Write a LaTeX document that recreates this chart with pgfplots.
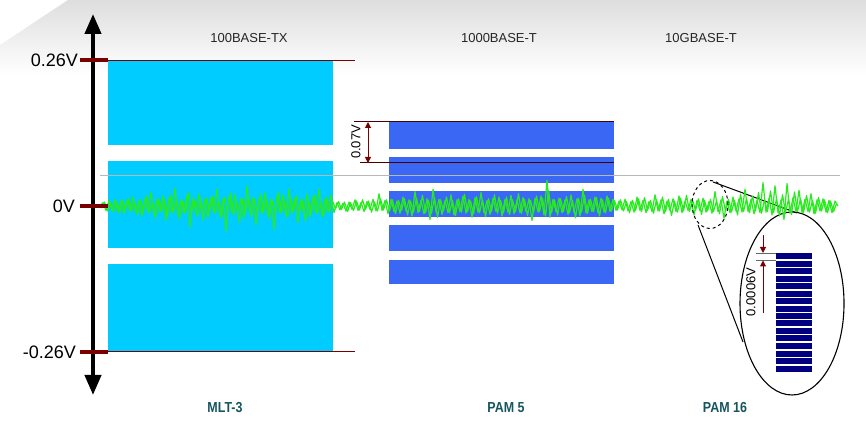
\documentclass[border=0pt]{standalone}
\usepackage{pgfplots}
\pgfplotsset{compat=1.18}
\usepackage{fontspec}
\setmainfont{Liberation Sans}
\usetikzlibrary{arrows.meta}
\definecolor{mlt}{RGB}{0,204,255}
\definecolor{pamfive}{RGB}{58,104,245}
\definecolor{pamsix}{RGB}{0,0,128}
\definecolor{noise}{RGB}{40,235,30}
\definecolor{tickred}{RGB}{120,0,0}
\definecolor{darkline}{RGB}{70,0,0}
\definecolor{labteal}{RGB}{22,85,95}
\begin{document}
\begin{tikzpicture}
\path (0pt,0pt) rectangle (866pt,427pt);
\shade[top color=black!13,bottom color=white] (0pt,382pt)--(68pt,427pt)--(866pt,427pt)--(866pt,352pt)--(0pt,352pt)--cycle;
\begin{axis}[at={(0pt,0pt)},anchor=south west,width=866pt,height=427pt,scale only axis,
  xmin=0,xmax=866,ymin=-0.394643,ymax=0.367857,hide axis,clip=false]
% MLT-3 levels
\addplot[fill=mlt,draw=none] coordinates {(108,0.2607)(333,0.2607)(333,0.1089)(108,0.1089)};
\addplot[fill=mlt,draw=none] coordinates {(108,0.0804)(333,0.0804)(333,-0.0750)(108,-0.0750)};
\addplot[fill=mlt,draw=none] coordinates {(108,-0.1036)(333,-0.1036)(333,-0.2607)(108,-0.2607)};
% PAM 5 levels
\addplot[fill=pamfive,draw=none] coordinates {(389,0.1500)(614,0.1500)(614,0.1020)(389,0.1020)};
\addplot[fill=pamfive,draw=none] coordinates {(389,0.0875)(614,0.0875)(614,0.0410)(389,0.0410)};
\addplot[fill=pamfive,draw=none] coordinates {(389,0.0268)(614,0.0268)(614,-0.0196)(389,-0.0196)};
\addplot[fill=pamfive,draw=none] coordinates {(389,-0.0339)(614,-0.0339)(614,-0.0804)(389,-0.0804)};
\addplot[fill=pamfive,draw=none] coordinates {(389,-0.0964)(614,-0.0964)(614,-0.1393)(389,-0.1393)};
% reference lines
\addplot[tickred,line width=1pt] coordinates {(108,0.2607)(355,0.2607)};
\addplot[tickred,line width=1pt] coordinates {(108,-0.2607)(355,-0.2607)};
\addplot[darkline,line width=1pt] coordinates {(354,0.1500)(614,0.1500)};
\addplot[darkline,line width=1pt] coordinates {(360,0.0768)(614,0.0768)};
\addplot[black!28,line width=0.8pt] coordinates {(100,0.0554)(840,0.0554)};
% zoom ellipse (PAM 16)
\draw[black,line width=1.1pt,fill=white] (axis cs:792,-0.1741) ellipse [x radius=52pt,y radius=91.5pt];
\draw[black,line width=1pt] (axis cs:713,0.0429) -- (axis cs:797,-0.0125);
\draw[black,line width=1pt] (axis cs:698,-0.0339) -- (axis cs:743,-0.2429);
% PAM 16 levels
\addplot[pamsix,line width=6pt,unbounded coords=jump] coordinates {
(776,-0.0893)(812,-0.0893)(776,nan)
(776,-0.1027)(812,-0.1027)(776,nan)
(776,-0.1161)(812,-0.1161)(776,nan)
(776,-0.1295)(812,-0.1295)(776,nan)
(776,-0.1429)(812,-0.1429)(776,nan)
(776,-0.1563)(812,-0.1563)(776,nan)
(776,-0.1697)(812,-0.1697)(776,nan)
(776,-0.1831)(812,-0.1831)(776,nan)
(776,-0.1964)(812,-0.1964)(776,nan)
(776,-0.2098)(812,-0.2098)(776,nan)
(776,-0.2232)(812,-0.2232)(776,nan)
(776,-0.2366)(812,-0.2366)(776,nan)
(776,-0.2500)(812,-0.2500)(776,nan)
(776,-0.2634)(812,-0.2634)(776,nan)
(776,-0.2768)(812,-0.2768)(776,nan)
(776,-0.2902)(812,-0.2902)};
\addplot[black!60,line width=0.8pt] coordinates {(756,-0.0839)(776,-0.0839)};
\addplot[black!60,line width=0.8pt] coordinates {(756,-0.0973)(776,-0.0973)};
\draw[tickred,line width=1pt,-{Triangle[width=6pt,length=6pt]}] (axis cs:763,-0.0518) -- (axis cs:763,-0.0839);
\draw[tickred,line width=1pt,-{Triangle[width=6pt,length=6pt]}] (axis cs:763,-0.1911) -- (axis cs:763,-0.0973);
\node[rotate=90,font=\fontsize{13}{13}\selectfont] at (axis cs:751,-0.1536) {0.0006V};
% 0.07V annotation
\draw[tickred,line width=1pt,{Triangle[width=6pt,length=6pt]}-{Triangle[width=6pt,length=6pt]}] (axis cs:368,0.1500) -- (axis cs:368,0.0768);
\node[rotate=90,font=\fontsize{13}{13}\selectfont] at (axis cs:356,0.1143) {0.07V};
% noise signal (two interleaved sample sets)
\addplot[noise,line width=1.2pt,line join=round] coordinates {
(100,0.000)(103,0.006)(106,-0.008)(109,0.010)(112,-0.007)(115,0.012)(118,-0.010)(121,0.009)(124,-0.014)(127,0.011)
(130,-0.009)(133,0.016)(136,-0.012)(139,0.010)(142,-0.018)(145,0.013)(148,-0.011)(151,0.024)(154,-0.015)(157,0.012)
(160,-0.010)(163,0.018)(166,-0.026)(169,0.014)(172,-0.012)(175,0.032)(178,-0.016)(181,0.011)(184,-0.013)(187,0.019)
(190,-0.038)(193,0.015)(196,-0.012)(199,0.022)(202,-0.014)(205,0.012)(208,-0.020)(211,0.016)(214,-0.011)(217,0.030)
(220,-0.018)(223,0.013)(226,-0.045)(229,0.017)(232,-0.012)(235,0.021)(238,-0.015)(241,0.014)(244,-0.022)(247,0.036)
(250,-0.013)(253,0.016)(256,-0.034)(259,0.012)(262,-0.014)(265,0.024)(268,-0.017)(271,0.013)(274,-0.042)(277,0.018)
(280,-0.012)(283,0.020)(286,-0.016)(289,0.030)(292,-0.013)(295,0.015)(298,-0.030)(301,0.012)(304,-0.014)(307,0.022)
(310,-0.020)(313,0.016)(316,-0.012)(319,0.030)(322,-0.018)(325,0.013)(328,-0.011)(331,0.020)(334,-0.012)
(337,0.006)(340,-0.007)(343,0.005)(346,-0.009)(349,0.007)(352,-0.006)(355,0.011)(358,-0.008)(361,0.006)(364,-0.010)
(367,0.008)(370,-0.006)(373,0.012)(376,-0.009)(379,0.022)(382,-0.008)(385,0.010)(388,-0.014)
(391,0.012)(394,-0.010)(397,0.009)(400,-0.013)(403,0.016)(406,-0.009)(409,0.011)(412,-0.018)(415,0.026)(418,-0.012)
(421,0.010)(424,-0.014)(427,0.013)(430,-0.024)(433,0.030)(436,-0.011)(439,0.012)(442,-0.015)(445,0.010)(448,-0.012)
(451,0.020)(454,-0.016)(457,0.011)(460,-0.010)(463,0.018)(466,-0.013)(469,0.012)(472,-0.020)(475,0.015)(478,-0.011)
(481,0.024)(484,-0.012)(487,0.010)(490,-0.015)(493,0.014)(496,-0.010)(499,0.016)(502,-0.018)(505,0.012)(508,-0.011)
(511,0.019)(514,-0.014)(517,0.011)(520,-0.012)(523,0.015)(526,-0.010)(529,0.013)(532,-0.026)(535,0.014)(538,-0.011)
(541,0.018)(544,-0.016)(547,0.046)(550,-0.020)(553,0.012)(556,-0.010)(559,0.014)(562,-0.012)(565,0.011)(568,-0.015)
(571,0.020)(574,-0.011)(577,0.013)(580,-0.018)(583,0.030)(586,-0.013)(589,0.011)(592,-0.010)(595,0.016)(598,-0.012)
(601,0.014)(604,-0.011)(607,0.018)(610,-0.010)(613,0.012)
(616,-0.008)(619,0.009)(622,-0.007)(625,0.012)(628,-0.009)(631,0.008)(634,-0.011)(637,0.016)(640,-0.008)(643,0.010)
(646,-0.012)(649,0.008)(652,-0.010)(655,0.020)(658,-0.009)(661,0.011)(664,-0.014)(667,0.009)(670,-0.008)(673,0.013)
(676,-0.010)(679,0.018)(682,-0.012)(685,0.009)(688,-0.008)(691,0.012)(694,-0.016)(697,0.010)(700,-0.009)(703,0.014)
(706,-0.011)(709,0.008)(712,-0.013)(715,0.026)(718,-0.010)(721,0.011)(724,-0.022)(727,0.009)(730,-0.012)(733,0.016)
(736,-0.009)(739,0.013)(742,-0.011)(745,0.030)(748,-0.010)(751,0.012)(754,-0.014)(757,0.010)(760,-0.012)(763,0.042)
(766,-0.011)(769,0.014)(772,-0.016)(775,0.036)(778,-0.012)(781,0.011)(784,-0.024)(787,0.040)(790,-0.013)(793,0.015)
(796,-0.010)(799,0.028)(802,-0.012)(805,0.012)(808,-0.010)(811,0.022)(814,-0.014)(817,0.011)(820,-0.009)(823,0.013)
(826,-0.011)(829,0.010)(832,-0.012)(835,0.009)(838,0.000)};
\addplot[noise,line width=1.2pt,line join=round] coordinates {
(101.5,-0.004)(104.5,0.007)(107.5,-0.009)(110.5,0.006)(113.5,-0.011)(116.5,0.008)(119.5,-0.013)(122.5,0.010)(125.5,-0.007)(128.5,0.014)
(131.5,-0.010)(134.5,0.008)(137.5,-0.016)(140.5,0.011)(143.5,-0.009)(146.5,0.019)(149.5,-0.012)(152.5,0.009)(155.5,-0.022)(158.5,0.013)
(161.5,-0.010)(164.5,0.012)(167.5,-0.018)(170.5,0.021)(173.5,-0.011)(176.5,0.014)(179.5,-0.024)(182.5,0.010)(185.5,-0.012)(188.5,0.025)
(191.5,-0.014)(194.5,0.011)(197.5,-0.019)(200.5,0.013)(203.5,-0.026)(206.5,0.015)(209.5,-0.010)(212.5,0.018)(215.5,-0.013)(218.5,0.011)
(221.5,-0.022)(224.5,0.016)(227.5,-0.012)(230.5,0.024)(233.5,-0.016)(236.5,0.010)(239.5,-0.029)(242.5,0.013)(245.5,-0.011)(248.5,0.017)
(251.5,-0.020)(254.5,0.012)(257.5,-0.013)(260.5,0.022)(263.5,-0.011)(266.5,0.014)(269.5,-0.023)(272.5,0.010)(275.5,-0.014)(278.5,0.026)
(281.5,-0.012)(284.5,0.011)(287.5,-0.021)(290.5,0.015)(293.5,-0.010)(296.5,0.019)(299.5,-0.013)(302.5,0.012)(305.5,-0.027)(308.5,0.011)
(311.5,-0.012)(314.5,0.021)(317.5,-0.014)(320.5,0.010)(323.5,-0.020)(326.5,0.016)(329.5,-0.010)(332.5,0.009)
(335.5,-0.005)(338.5,0.008)(341.5,-0.006)(344.5,0.007)(347.5,-0.010)(350.5,0.006)(353.5,-0.008)(356.5,0.009)(359.5,-0.007)(362.5,0.011)
(365.5,-0.006)(368.5,0.009)(371.5,-0.011)(374.5,0.007)(377.5,-0.009)(380.5,0.013)(383.5,-0.007)(386.5,0.011)
(389.5,-0.009)(392.5,0.011)(395.5,-0.014)(398.5,0.010)(401.5,-0.008)(404.5,0.013)(407.5,-0.016)(410.5,0.009)(413.5,-0.011)(416.5,0.014)
(419.5,-0.010)(422.5,0.019)(425.5,-0.012)(428.5,0.010)(431.5,-0.013)(434.5,0.015)(437.5,-0.020)(440.5,0.011)(443.5,-0.009)(446.5,0.016)
(449.5,-0.012)(452.5,0.010)(455.5,-0.017)(458.5,0.013)(461.5,-0.011)(464.5,0.021)(467.5,-0.010)(470.5,0.009)(473.5,-0.014)(476.5,0.017)
(479.5,-0.012)(482.5,0.011)(485.5,-0.019)(488.5,0.013)(491.5,-0.010)(494.5,0.020)(497.5,-0.013)(500.5,0.010)(503.5,-0.012)(506.5,0.016)
(509.5,-0.015)(512.5,0.011)(515.5,-0.010)(518.5,0.022)(521.5,-0.013)(524.5,0.012)(527.5,-0.017)(530.5,0.010)(533.5,-0.012)(536.5,0.018)
(539.5,-0.010)(542.5,0.014)(545.5,-0.018)(548.5,0.028)(551.5,-0.012)(554.5,0.011)(557.5,-0.016)(560.5,0.013)(563.5,-0.010)(566.5,0.017)
(569.5,-0.012)(572.5,0.010)(575.5,-0.021)(578.5,0.014)(581.5,-0.011)(584.5,0.019)(587.5,-0.013)(590.5,0.012)(593.5,-0.010)(596.5,0.015)
(599.5,-0.018)(602.5,0.011)(605.5,-0.012)(608.5,0.014)(611.5,-0.009)
(614.5,0.010)(617.5,-0.007)(620.5,0.011)(623.5,-0.009)(626.5,0.008)(629.5,-0.012)(632.5,0.010)(635.5,-0.008)(638.5,0.013)(641.5,-0.010)
(644.5,0.015)(647.5,-0.008)(650.5,0.010)(653.5,-0.013)(656.5,0.011)(659.5,-0.009)(662.5,0.016)(665.5,-0.010)(668.5,0.012)(671.5,-0.017)
(674.5,0.009)(677.5,-0.011)(680.5,0.014)(683.5,-0.009)(686.5,0.019)(689.5,-0.010)(692.5,0.011)(695.5,-0.008)(698.5,0.013)(701.5,-0.015)
(704.5,0.010)(707.5,-0.009)(710.5,0.012)(713.5,-0.010)(716.5,0.009)(719.5,-0.014)(722.5,0.017)(725.5,-0.009)(728.5,0.012)(731.5,-0.011)
(734.5,0.010)(737.5,-0.016)(740.5,0.021)(743.5,-0.010)(746.5,0.013)(749.5,-0.012)(752.5,0.018)(755.5,-0.009)(758.5,0.024)(761.5,-0.013)
(764.5,0.011)(767.5,-0.010)(770.5,0.027)(773.5,-0.012)(776.5,0.013)(779.5,-0.018)(782.5,0.020)(785.5,-0.011)(788.5,0.012)(791.5,-0.015)
(794.5,0.025)(797.5,-0.010)(800.5,0.013)(803.5,-0.012)(806.5,0.019)(809.5,-0.011)(812.5,0.010)(815.5,-0.013)(818.5,0.015)(821.5,-0.009)
(824.5,0.011)(827.5,-0.012)(830.5,0.009)(833.5,-0.010)(836.5,0.004)};
\draw[black,line width=1pt,dashed] (axis cs:710,0.0027) ellipse [x radius=18pt,y radius=24pt];
% voltage axis
\draw[black,line width=4pt,{Triangle[width=16pt,length=20pt]}-{Triangle[width=16pt,length=20pt]}] (axis cs:93,-0.3375) -- (axis cs:93,0.3429);
\addplot[tickred,line width=4.5pt] coordinates {(80,0.2607)(108,0.2607)};
\addplot[tickred,line width=4.5pt] coordinates {(80,0)(108,0)};
\addplot[tickred,line width=4.5pt] coordinates {(80,-0.2607)(108,-0.2607)};
\node[anchor=east,font=\fontsize{18}{18}\selectfont,inner sep=0pt] at (axis cs:78,0.2607) {0.26V};
\node[anchor=east,font=\fontsize{18}{18}\selectfont,inner sep=0pt] at (axis cs:75,0) {0V};
\node[anchor=east,font=\fontsize{18}{18}\selectfont,inner sep=0pt] at (axis cs:76,-0.2607) {-0.26V};
% titles
\node[font=\fontsize{13}{13}\selectfont,text=black!85] at (axis cs:249,0.3000) {100BASE-TX};
\node[font=\fontsize{13}{13}\selectfont,text=black!85] at (axis cs:499,0.3000) {1000BASE-T};
\node[font=\fontsize{13}{13}\selectfont,text=black!85] at (axis cs:701,0.3000) {10GBASE-T};
\node[font=\fontsize{14.5}{14.5}\selectfont\bfseries,text=labteal] at (axis cs:225,-0.3607) {\scalebox{0.86}[1]{MLT-3}};
\node[font=\fontsize{14.5}{14.5}\selectfont\bfseries,text=labteal] at (axis cs:506,-0.3607) {\scalebox{0.86}[1]{PAM 5}};
\node[font=\fontsize{14.5}{14.5}\selectfont\bfseries,text=labteal] at (axis cs:725,-0.3607) {\scalebox{0.86}[1]{PAM 16}};
\end{axis}
\end{tikzpicture}
\end{document}
